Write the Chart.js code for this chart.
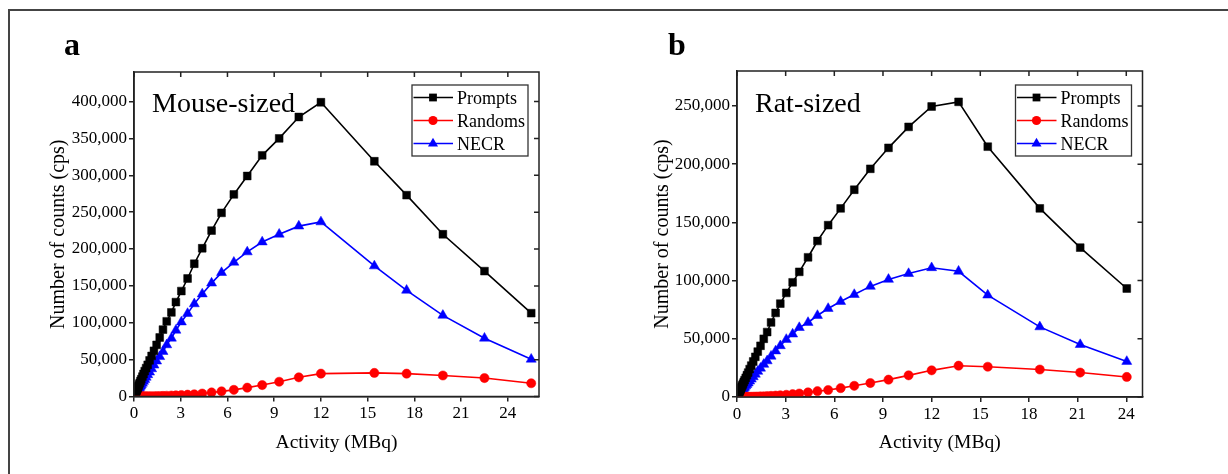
<!DOCTYPE html>
<html>
<head>
<meta charset="utf-8">
<script src="https://cdn.jsdelivr.net/npm/chart.js@4/dist/chart.umd.min.js"></script>
<style>
  body { margin: 0; background: #fff; width: 1228px; height: 474px; overflow: hidden; position: relative; }
  #frame { position: absolute; left: 8px; top: 9px; width: 1240px; height: 480px; border-left: 2px solid #444; border-top: 2px solid #444; }
  canvas { position: absolute; top: 0; }
  #mouseChart { left: 0; }
  #ratChart { left: 614px; }
</style>
</head>
<body>
<div id="frame"></div>
<canvas id="mouseChart" width="614" height="474"></canvas>
<canvas id="ratChart" width="614" height="474"></canvas>
<script>
'use strict'
// mouse-sized phantom (panel a)
const mouseActivity = [0.13, 0.15, 0.17, 0.2, 0.22, 0.25, 0.29, 0.33, 0.37, 0.42, 0.47, 0.54, 0.61, 0.69, 0.78, 0.88, 1.0, 1.13, 1.28, 1.45, 1.65, 1.86, 2.1, 2.4, 2.69, 3.04, 3.44, 3.87, 4.38, 4.98, 5.62, 6.41, 7.27, 8.23, 9.32, 10.58, 12.0, 15.43, 17.5, 19.83, 22.5, 25.5];
const mousePrompts = [6500, 7500, 8500, 10000, 11000, 12500, 14500, 16500, 18500, 21000, 23500, 27000, 30500, 34500, 38500, 43000, 49000, 55000, 62000, 70000, 80000, 90700, 102000, 114000, 128000, 143000, 160000, 180000, 201000, 225000, 249000, 274000, 299000, 327000, 350000, 379000, 399000, 319000, 273000, 220000, 170000, 113000];
const mouseRandoms = [4, 5, 6, 9, 11, 14, 19, 24, 30, 40, 50, 65, 80, 100, 130, 170, 220, 280, 360, 460, 600, 760, 970, 1270, 1600, 2000, 2500, 3000, 4000, 5500, 7000, 9000, 12000, 15500, 20000, 26000, 31000, 32000, 31000, 28500, 25000, 18000];
const mouseNECR = [4400, 5000, 5700, 6700, 7400, 8400, 9700, 11000, 12400, 14000, 15800, 18000, 20500, 23000, 26000, 29500, 33000, 37500, 42500, 48000, 54000, 61000, 70000, 79000, 89800, 101000, 112500, 125600, 139000, 153700, 168000, 182000, 196000, 209500, 220000, 231000, 236700, 177000, 144000, 110000, 79000, 50500];

// rat-sized phantom (panel b)
const ratActivity = [0.13, 0.15, 0.17, 0.2, 0.22, 0.25, 0.29, 0.33, 0.37, 0.42, 0.47, 0.54, 0.61, 0.69, 0.78, 0.88, 1.0, 1.13, 1.28, 1.45, 1.65, 1.86, 2.1, 2.38, 2.67, 3.04, 3.43, 3.84, 4.38, 4.96, 5.62, 6.39, 7.23, 8.22, 9.34, 10.58, 12.0, 13.66, 15.46, 18.67, 21.16, 24.03];
const ratPrompts = [4000, 4600, 5200, 6100, 6800, 7700, 8900, 10100, 11400, 12900, 14500, 16500, 18700, 21000, 24000, 27000, 30500, 34500, 39000, 44000, 50000, 55800, 64000, 72200, 80200, 89400, 98500, 107500, 120000, 134000, 147600, 162000, 178000, 196000, 214000, 232000, 249500, 253500, 215000, 162000, 128300, 93200];
const ratRandoms = [4, 6, 7, 10, 12, 15, 20, 26, 33, 42, 52, 68, 85, 110, 140, 180, 230, 290, 370, 470, 600, 750, 950, 1200, 1500, 1900, 2400, 3000, 4000, 5000, 6000, 7600, 9600, 12000, 14900, 18600, 22900, 26900, 26000, 23600, 21000, 17200];
const ratNECR = [2300, 2600, 3000, 3500, 3900, 4400, 5100, 5800, 6500, 7400, 8300, 9500, 10700, 12000, 13600, 15300, 17300, 19500, 22000, 24700, 28000, 31000, 35000, 39500, 44000, 49400, 54000, 59600, 64000, 70000, 76000, 82000, 88000, 95000, 101000, 106000, 111000, 108000, 87500, 60200, 45000, 30500];

// tick labels
const activityTicks = [0, 3, 6, 9, 12, 15, 18, 21, 24];
const mouseCountTicks = [0, 50000, 100000, 150000, 200000, 250000, 300000, 350000, 400000];
const ratCountTicks = [0, 50000, 100000, 150000, 200000, 250000];

const seriesNames = ['Prompts', 'Randoms', 'NECR'];
const seriesColors = ['#000000', '#ff0000', '#0000ff'];
const seriesMarkers = ['rect', 'circle', 'triangle'];
const markerSizes = [5.5, 4.6, 5.8];

const axisColor = '#222';
const serif = '"Liberation Serif", "Times New Roman", serif';
Chart.defaults.font.family = serif;
Chart.defaults.color = '#000';

function drawMarker(ctx, style, x, y, r) {
  ctx.beginPath();
  if (style === 'rect') {
    const s = r * Math.SQRT1_2;
    ctx.rect(x - s, y - s, 2 * s, 2 * s);
  } else if (style === 'circle') {
    ctx.arc(x, y, r, 0, Math.PI * 2);
  } else {
    for (let i = 0; i < 3; i++) {
      const a = i * 2 * Math.PI / 3;
      const px = x + Math.sin(a) * r, py = y - Math.cos(a) * r;
      i === 0 ? ctx.moveTo(px, py) : ctx.lineTo(px, py);
    }
    ctx.closePath();
  }
  ctx.fill();
}

// frame box, inward mirror ticks, panel letter, label and boxed legend
const panelPlugin = {
  id: 'panel',
  afterDraw(chart, args, opts) {
    const {ctx, chartArea: a} = chart;
    const xs = chart.scales.x, ys = chart.scales.y;
    ctx.save();
    ctx.strokeStyle = axisColor;
    ctx.lineWidth = 1.5;
    ctx.strokeRect(a.left, a.top, a.right - a.left, a.bottom - a.top);
    ctx.beginPath();
    xs.ticks.forEach(t => {
      const px = xs.getPixelForValue(t.value);
      ctx.moveTo(px, a.top); ctx.lineTo(px, a.top + 5);
    });
    ys.ticks.forEach(t => {
      const py = ys.getPixelForValue(t.value);
      ctx.moveTo(a.right, py); ctx.lineTo(a.right - 5, py);
    });
    ctx.stroke();

    ctx.fillStyle = '#000';
    ctx.textBaseline = 'alphabetic';
    ctx.font = 'bold 32px ' + serif;
    ctx.fillText(opts.letter, opts.letterX, 55);
    ctx.font = '28px ' + serif;
    ctx.fillText(opts.label, a.left + 18, 112);

    // legend
    const bx = a.right - 127, by = 85, bw = 116, bh = 71;
    ctx.lineWidth = 1.3;
    ctx.strokeStyle = '#333';
    ctx.strokeRect(bx, by, bw, bh);
    ctx.font = '18px ' + serif;
    chart.data.datasets.forEach((ds, i) => {
      const ry = by + 12.5 + i * 23;
      ctx.strokeStyle = ds.borderColor;
      ctx.lineWidth = 1.5;
      ctx.beginPath();
      ctx.moveTo(bx + 1.5, ry); ctx.lineTo(bx + 41, ry);
      ctx.stroke();
      ctx.fillStyle = ds.borderColor;
      drawMarker(ctx, ds.pointStyle, bx + 21, ry, ds.pointRadius);
      ctx.fillStyle = '#000';
      ctx.fillText(ds.label, bx + 45, ry + 6.5);
    });
    ctx.restore();
  }
};

function makePanel(id, activity, lists, cfg) {
  const datasets = lists.map((vals, i) => ({
    label: seriesNames[i],
    data: activity.map((x, k) => ({x: x, y: vals[k]})),
    borderColor: seriesColors[i],
    backgroundColor: seriesColors[i],
    pointStyle: seriesMarkers[i],
    pointRadius: markerSizes[i],
    pointBorderWidth: 0.5,
    borderWidth: 1.6,
    tension: 0,
  }));

  return new Chart(document.getElementById(id), {
    type: 'line',
    data: {datasets: datasets},
    plugins: [panelPlugin],
    options: {
      responsive: false,
      animation: false,
      devicePixelRatio: 1,
      layout: {padding: {left: 0, right: cfg.padRight, top: cfg.padTop, bottom: 0}},
      plugins: {
        legend: {display: false},
        tooltip: {enabled: false},
        panel: {letter: cfg.letter, letterX: cfg.letterX, label: cfg.label},
      },
      scales: {
        x: {
          type: 'linear',
          min: 0,
          max: cfg.xMax,
          afterBuildTicks: s => { s.ticks = activityTicks.map(v => ({value: v})); },
          afterFit: s => { s.height = cfg.xHeight; },
          ticks: {font: {size: 17}, color: '#000', padding: 2, maxRotation: 0},
          grid: {drawOnChartArea: false, tickLength: 5, color: axisColor, lineWidth: 1.5},
          border: {color: axisColor, width: 1.5},
          title: {display: true, text: 'Activity (MBq)', font: {size: 19.5}, color: '#000', padding: {top: 0, bottom: 19}},
        },
        y: {
          type: 'linear',
          min: 0,
          max: cfg.yMax,
          afterBuildTicks: s => { s.ticks = cfg.yTicks.map(v => ({value: v})); },
          afterFit: s => { s.width = cfg.yWidth; },
          ticks: {font: {size: 17}, color: '#000', padding: 2,
            callback: v => v.toLocaleString('en-US')},
          grid: {drawOnChartArea: false, tickLength: 5, color: axisColor, lineWidth: 1.5},
          border: {color: axisColor, width: 1.5},
          title: {display: true, text: 'Number of counts (cps)', font: {size: 20}, color: '#000', padding: {top: cfg.yTitlePad, bottom: 0}},
        },
      },
    },
  });
}

makePanel('mouseChart', mouseActivity, [mousePrompts, mouseRandoms, mouseNECR], {
  letter: 'a', letterX: 64, label: 'Mouse-sized',
  xMax: 26, yMax: 440000, yTicks: mouseCountTicks,
  padRight: 75, padTop: 72, yWidth: 134, xHeight: 77.5, yTitlePad: 47,
});

makePanel('ratChart', ratActivity, [ratPrompts, ratRandoms, ratNECR], {
  letter: 'b', letterX: 54, label: 'Rat-sized',
  xMax: 25, yMax: 280000, yTicks: ratCountTicks,
  padRight: 85.5, padTop: 71, yWidth: 123, xHeight: 77, yTitlePad: 36.5,
});
</script>
</body>
</html>
